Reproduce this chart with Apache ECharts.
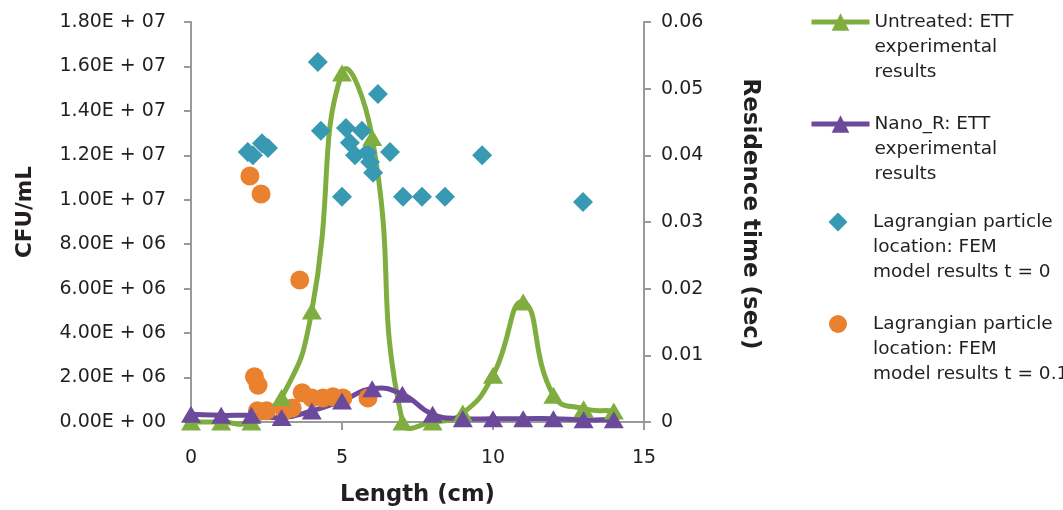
<!DOCTYPE html>
<html><head><meta charset="utf-8">
<script src="https://cdn.jsdelivr.net/npm/echarts@6/dist/echarts.min.js"></script>
<style>html,body{margin:0;padding:0;background:#fff}#c{width:1063px;height:510px}</style>
</head><body><div id="c"></div>
<script>
// ---- data ----
const lengthCm = [0, 1, 2, 3, 4, 5, 6, 7, 8, 9, 10, 11, 12, 13, 14];
const untreatedCFU = [0, 0, 0, 1.1e6, 5.0e6, 1.57e7, 1.28e7, 0, 0, 0.4e6, 2.1e6, 5.4e6, 1.2e6, 0.6e6, 0.5e6];
const nanoRCFU = [0.35e6, 0.3e6, 0.3e6, 0.2e6, 0.5e6, 0.95e6, 1.5e6, 1.25e6, 0.35e6, 0.15e6, 0.15e6, 0.15e6, 0.15e6, 0.1e6, 0.1e6];
const t0Length = [1.88, 2.05, 2.35, 2.55, 4.2, 4.3, 5.0, 5.13, 5.26, 5.43, 5.66, 5.83, 5.93, 6.03, 6.19, 6.59, 7.02, 7.65, 8.41, 9.64, 12.98];
const t0Time = [0.0405, 0.0400, 0.0418, 0.0411, 0.0540, 0.0437, 0.0338, 0.0441, 0.0419, 0.0400, 0.0437, 0.0404, 0.0390, 0.0374, 0.0492, 0.0405, 0.0338, 0.0338, 0.0338, 0.0400, 0.0330];
const t1Length = [1.95, 2.32, 3.6, 2.1, 2.22, 2.2, 2.5, 3.1, 3.35, 3.68, 4.0, 4.37, 4.7, 5.03, 5.86];
const t1Time = [0.0369, 0.0342, 0.0213, 0.0068, 0.0055, 0.0017, 0.0017, 0.0017, 0.0021, 0.0044, 0.0036, 0.0036, 0.0038, 0.0036, 0.0036];
const leftTickLabels = ['0.00E + 00', '2.00E + 06', '4.00E + 06', '6.00E + 06', '8.00E + 06', '1.00E + 07', '1.20E + 07', '1.40E + 07', '1.60E + 07', '1.80E + 07'];
const rightTickLabels = ['0', '0.01', '0.02', '0.03', '0.04', '0.05', '0.06'];
const seriesNames = [
  'Untreated: ETT\nexperimental\nresults',
  'Nano_R: ETT\nexperimental\nresults',
  'Lagrangian particle\nlocation: FEM\nmodel results t = 0',
  'Lagrangian particle\nlocation: FEM\nmodel results t = 0.1'
];

// ---- style ----
const FONT = 'DejaVu Sans';
const TXT = '#231f20';
const AX = '#9a9a9a';
const GREEN = '#80ad3f', PURPLE = '#6b4a9b', TEAL = '#3899b3', ORANGE = '#e9812f';
const SMOOTH = 0.5;

const pairs = (xs, ys) => xs.map((x, i) => [x, ys[i]]);

// control points around point p (chord-weighted, unclamped smoothing)
function ctrl(pPrev, p, pNext) {
  const vx = pNext[0] - pPrev[0], vy = pNext[1] - pPrev[1];
  const l0 = Math.hypot(p[0] - pPrev[0], p[1] - pPrev[1]);
  const l1 = Math.hypot(pNext[0] - p[0], pNext[1] - p[1]);
  const r = (l0 + l1) > 0 ? l1 / (l0 + l1) : 0.5;
  return [[p[0] - vx * SMOOTH * (1 - r), p[1] - vy * SMOOTH * (1 - r)],
          [p[0] + vx * SMOOTH * r, p[1] + vy * SMOOTH * r]];
}

function curveSeries(xs, ys, color) {
  return {
    type: 'custom', yAxisIndex: 0, silent: true,
    encode: { x: 0, y: 1 },
    data: pairs(xs, ys),
    renderItem: (params, api) => {
      const i = params.dataIndexInside, n = params.dataInsideLength;
      if (i >= n - 1) return null;
      const P = j => { j = Math.max(0, Math.min(n - 1, j)); return api.coord([api.value(0, j), api.value(1, j)]); };
      const p0 = P(i - 1), p1 = P(i), p2 = P(i + 1), p3 = P(i + 2);
      const c1 = ctrl(p0, p1, p2)[1];
      const c2 = ctrl(p1, p2, p3)[0];
      return {
        type: 'bezierCurve',
        shape: { x1: p1[0], y1: p1[1], x2: p2[0], y2: p2[1], cpx1: c1[0], cpy1: c1[1], cpx2: c2[0], cpy2: c2[1] },
        style: { stroke: color, lineWidth: 5, fill: null, lineCap: 'round' }
      };
    }
  };
}

function mkLegend(name, iconY, h, opts) {
  return Object.assign({
    data: [name], left: 809, top: iconY - 62.5, padding: 0, itemWidth: 58, itemHeight: h, itemGap: 0,
    selectedMode: false,
    lineStyle: { width: 5 },
    formatter: n => '\n\n' + n,
    textStyle: { fontFamily: FONT, fontSize: 18.5, lineHeight: 25, color: TXT }
  }, opts || {});
}

const chart = echarts.init(document.getElementById('c'), null, { renderer: 'canvas' });
chart.setOption({
  animation: false,
  backgroundColor: '#fff',
  grid: { left: 191, right: 419, top: 22, bottom: 88, containLabel: false, outerBoundsMode: 'none' },
  legend: [
    mkLegend(seriesNames[0], 22, 22),
    mkLegend(seriesNames[1], 124, 22),
    mkLegend(seriesNames[2], 222, 19, { icon: 'diamond', itemWidth: 19, left: 828.5,
      textStyle: { fontFamily: FONT, fontSize: 18.5, lineHeight: 25, color: TXT, padding: [0, 0, 0, 20.5] } }),
    mkLegend(seriesNames[3], 324, 18, { icon: 'circle', itemWidth: 18, left: 829,
      textStyle: { fontFamily: FONT, fontSize: 18.5, lineHeight: 25, color: TXT, padding: [0, 0, 0, 21] } })
  ],
  xAxis: {
    type: 'value', min: 0, max: 15, interval: 5,
    name: 'Length (cm)', nameLocation: 'middle', nameGap: 62,
    nameTextStyle: { fontFamily: FONT, fontSize: 22.7, fontWeight: 'bold', color: TXT },
    axisLine: { lineStyle: { color: AX, width: 2 } },
    axisTick: { show: true, length: 8, lineStyle: { color: AX, width: 2 } },
    axisLabel: { margin: 27, fontFamily: FONT, fontSize: 19, color: TXT },
    splitLine: { show: false }
  },
  yAxis: [
    {
      type: 'value', min: 0, max: 1.8e7, interval: 2e6, position: 'left',
      name: 'CFU/mL', nameLocation: 'middle', nameGap: 155,
      nameTextStyle: { fontFamily: FONT, fontSize: 21.5, fontWeight: 'bold', color: TXT, padding: [0, 0, 0, 20] },
      axisLine: { show: true, lineStyle: { color: AX, width: 2 } },
      axisTick: { show: true, length: 7, lineStyle: { color: AX, width: 2 } },
      axisLabel: { margin: 25, fontFamily: FONT, fontSize: 19, color: TXT,
        formatter: v => leftTickLabels[Math.round(v / 2e6)] },
      splitLine: { show: false }
    },
    {
      type: 'value', min: 0, max: 0.06, interval: 0.01, position: 'right',
      name: 'Residence time (sec)', nameLocation: 'middle', nameGap: 94, nameRotate: -90,
      nameTextStyle: { fontFamily: FONT, fontSize: 23, fontWeight: 'bold', color: TXT, padding: [0, 16, 0, 0] },
      axisLine: { show: true, lineStyle: { color: AX, width: 2 } },
      axisTick: { show: true, length: 7, lineStyle: { color: AX, width: 2 } },
      axisLabel: { margin: 17, fontFamily: FONT, fontSize: 19, color: TXT,
        formatter: v => rightTickLabels[Math.round(v / 0.01)] },
      splitLine: { show: false }
    }
  ],
  series: [
    curveSeries(lengthCm, untreatedCFU, GREEN),
    curveSeries(lengthCm, nanoRCFU, PURPLE),
    {
      name: seriesNames[0], type: 'line', yAxisIndex: 0,
      data: pairs(lengthCm, untreatedCFU),
      symbol: 'triangle', symbolSize: [20, 17],
      lineStyle: { color: GREEN, width: 0 }, itemStyle: { color: GREEN }
    },
    {
      name: seriesNames[1], type: 'line', yAxisIndex: 0,
      data: pairs(lengthCm, nanoRCFU),
      symbol: 'triangle', symbolSize: [20, 17],
      lineStyle: { color: PURPLE, width: 0 }, itemStyle: { color: PURPLE }
    },
    {
      name: seriesNames[2], type: 'scatter', yAxisIndex: 1,
      data: pairs(t0Length, t0Time),
      symbol: 'diamond', symbolSize: 20,
      itemStyle: { color: TEAL, opacity: 1 }
    },
    {
      name: seriesNames[3], type: 'scatter', yAxisIndex: 1,
      data: pairs(t1Length, t1Time),
      symbol: 'circle', symbolSize: 19,
      itemStyle: { color: ORANGE, opacity: 1 }
    }
  ]
});
</script></body></html>
